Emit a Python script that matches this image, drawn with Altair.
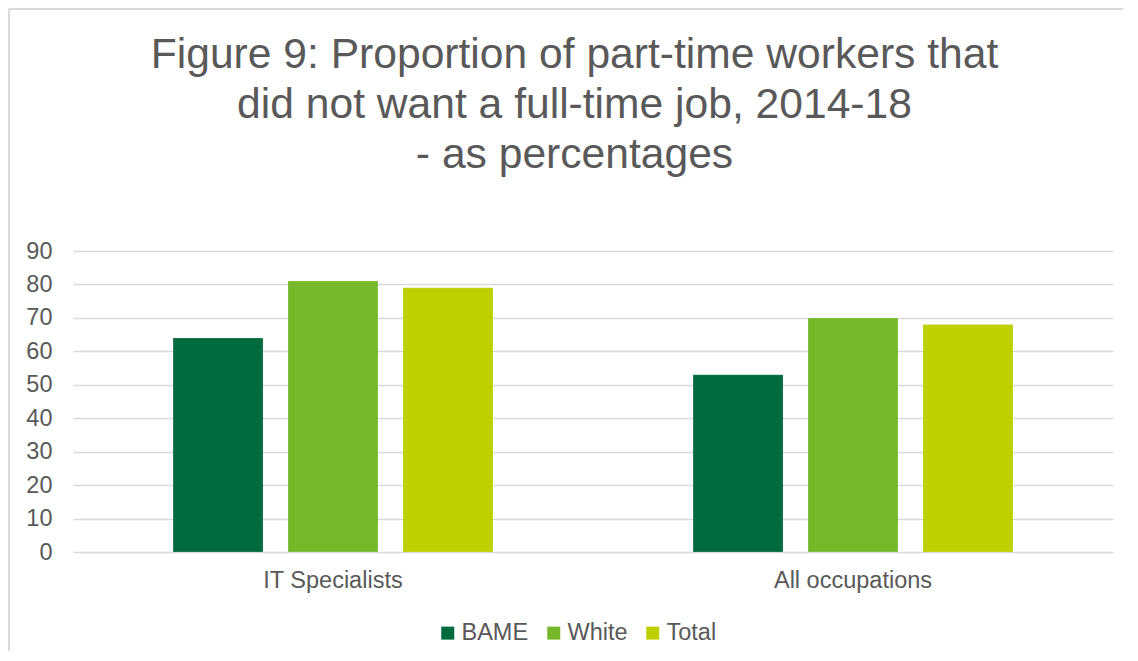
import altair as alt
import pandas as pd

categories = ["IT Specialists", "All occupations"]
series = ["BAME", "White", "Total"]
bame = [64, 53]
white = [81, 70]
total = [79, 68]
colors = ["#006B3F", "#77B82A", "#BDD000"]
y_ticks = [0, 10, 20, 30, 40, 50, 60, 70, 80, 90]

rows = []
for i, c in enumerate(categories):
    rows.append({"cat": c, "series": "BAME", "value": bame[i]})
    rows.append({"cat": c, "series": "White", "value": white[i]})
    rows.append({"cat": c, "series": "Total", "value": total[i]})
df = pd.DataFrame(rows)

FONT = "Liberation Sans"
GREY = "#595959"
FS = 23.5

bars = alt.Chart(df).mark_bar(stroke="#FFFFFF", strokeWidth=0.5, strokeOpacity=0.4).encode(
    x=alt.X("cat:N", sort=categories,
            scale=alt.Scale(paddingInner=0, paddingOuter=0),
            axis=alt.Axis(title=None, labelAngle=0, ticks=False, domain=False,
                          labelPadding=16, labelFontSize=FS, labelColor=GREY,
                          labelFont=FONT, grid=False)),
    xOffset=alt.XOffset("series:N", sort=series,
                        scale=alt.Scale(domain=series, paddingInner=0.217, paddingOuter=0.87)),
    y=alt.Y("value:Q",
            scale=alt.Scale(domain=[0, 90], nice=False),
            axis=alt.Axis(title=None, values=y_ticks, ticks=False, domain=False,
                          labelPadding=21, labelFontSize=FS, labelColor=GREY,
                          labelFont=FONT, grid=True, gridColor="#D9D9D9",
                          gridWidth=1.3)),
    color=alt.Color("series:N", sort=series,
                    scale=alt.Scale(domain=series, range=colors),
                    legend=alt.Legend(title=None, orient="none", direction="horizontal",
                                      legendX=363, legendY=370,
                                      symbolType="square", symbolSize=169,
                                      symbolStrokeWidth=0, labelFontSize=FS,
                                      labelColor=GREY, labelFont=FONT,
                                      labelOffset=2, columnPadding=13)),
)

frame_data = alt.Data(values=[{}])
left_line = alt.Chart(frame_data).mark_rule(color="#D9D9D9", strokeWidth=2).encode(
    x=alt.value(-64), y=alt.value(-242), y2=alt.value(400))
top_line = alt.Chart(frame_data).mark_rule(color="#D9D9D9", strokeWidth=2).encode(
    x=alt.value(-64), x2=alt.value(1050), y=alt.value(-242))

chart = alt.layer(left_line, top_line, bars).properties(
    width=1040,
    height=301,
    padding=0,
    title=alt.TitleParams(
        text=["Figure 9: Proportion of part-time workers that",
              "did not want a full-time job, 2014-18",
              "- as percentages"],
        fontSize=42.6, font=FONT, color=GREY, fontWeight="normal",
        anchor="middle", frame="group", dx=-18.5, lineHeight=50, offset=-169),
).configure_view(stroke=None)

chart.save("out.html", embed_options={"renderer": "svg", "actions": False})
